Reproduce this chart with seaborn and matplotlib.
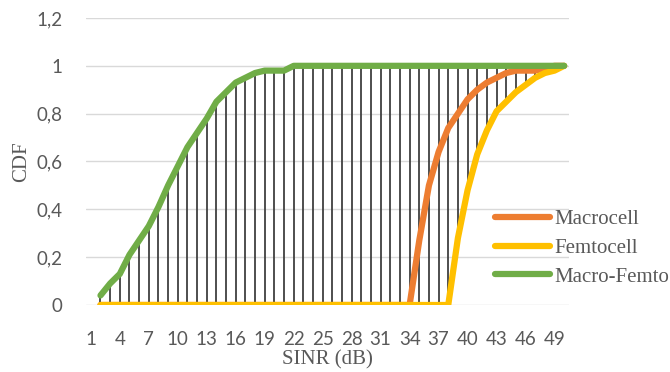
import numpy as np
import pandas as pd
import matplotlib
matplotlib.use("Agg")
import matplotlib.pyplot as plt
import seaborn as sns

# SINR categories (axis shows 1..50, data starts at the 2nd category)
sinr_labels = list(range(1, 51))
sinr_data = list(range(2, 51))

# CDF values
macrocell = [0.0] * 33 + [0.27, 0.50, 0.64, 0.74, 0.80, 0.86, 0.90, 0.93,
                          0.95, 0.97, 0.98, 0.98, 0.98, 0.99, 1.0, 1.0]
femtocell = [0.0] * 37 + [0.28, 0.48, 0.63, 0.73, 0.81, 0.85, 0.89, 0.92,
                          0.95, 0.97, 0.98, 1.0]
macro_femto = [0.04, 0.09, 0.13, 0.21, 0.27, 0.33, 0.41, 0.50, 0.58, 0.66,
               0.72, 0.78, 0.85, 0.89, 0.93, 0.95, 0.97, 0.98, 0.98, 0.98] + [1.0] * 29

series_names = ["Macrocell", "Femtocell", "Macro-Femto"]
series_colors = ["#ED7D31", "#FFC000", "#70AD47"]

df = pd.DataFrame({
    "SINR": sinr_data * 3,
    "CDF": macrocell + femtocell + macro_femto,
    "Scheme": ["Macrocell"] * 49 + ["Femtocell"] * 49 + ["Macro-Femto"] * 49,
})

sns.set_style("white")
plt.rcParams["font.family"] = ["Lato", "DejaVu Sans"]

fig = plt.figure(figsize=(6.7, 3.72), dpi=100)
ax = fig.add_axes([86 / 670, 1 - 305 / 372, (569 - 86) / 670, (305 - 18) / 372])

# high-low lines between the series
wide = np.array([macrocell, femtocell, macro_femto])
ax.vlines(sinr_data, wide.min(axis=0), wide.max(axis=0),
          color="#404040", linewidth=1.3, zorder=2)

sns.lineplot(
    data=df,
    x="SINR",
    y="CDF",
    hue="Scheme",
    hue_order=series_names,
    palette=series_colors,
    linewidth=4.5,
    solid_capstyle="round",
    ax=ax,
    zorder=3,
)

ax.set_xlim(0.5, 50.5)
ax.set_ylim(0, 1.2)
ax.set_yticks(np.arange(0, 1.21, 0.2))
ax.set_yticklabels([f"{v:.1f}".replace(".", ",").replace(",0", "") for v in np.arange(0, 1.21, 0.2)])
ax.set_xticks(sinr_labels[::3])
ax.set_xticklabels([str(v) for v in sinr_labels[::3]])

ax.grid(axis="y", color="#D9D9D9", linewidth=1.0, zorder=0)
ax.set_axisbelow(True)
for s in ax.spines.values():
    s.set_visible(False)

ax.tick_params(axis="both", length=0, labelsize=13.5, labelcolor="#595959")
ax.tick_params(axis="x", pad=19)
ax.tick_params(axis="y", pad=17)

ax.set_xlabel("SINR (dB)", family="Liberation Serif", fontsize=15, color="#595959", labelpad=1)
ax.set_ylabel("CDF", family="Liberation Serif", fontsize=15, color="#595959", labelpad=4)

# Legend
handles, labels = ax.get_legend_handles_labels()
ax.legend(
    handles, labels,
    loc="center left",
    bbox_to_anchor=(495 / 670, 1 - 248 / 372),
    bbox_transform=fig.transFigure,
    frameon=False,
    borderpad=0,
    borderaxespad=0,
    handlelength=2.64,
    handletextpad=0.2,
    labelspacing=0.45,
    prop={"family": "Liberation Serif", "size": 15},
    labelcolor="#595959",
)

plt.savefig("out.png", dpi=100)
plt.close()
